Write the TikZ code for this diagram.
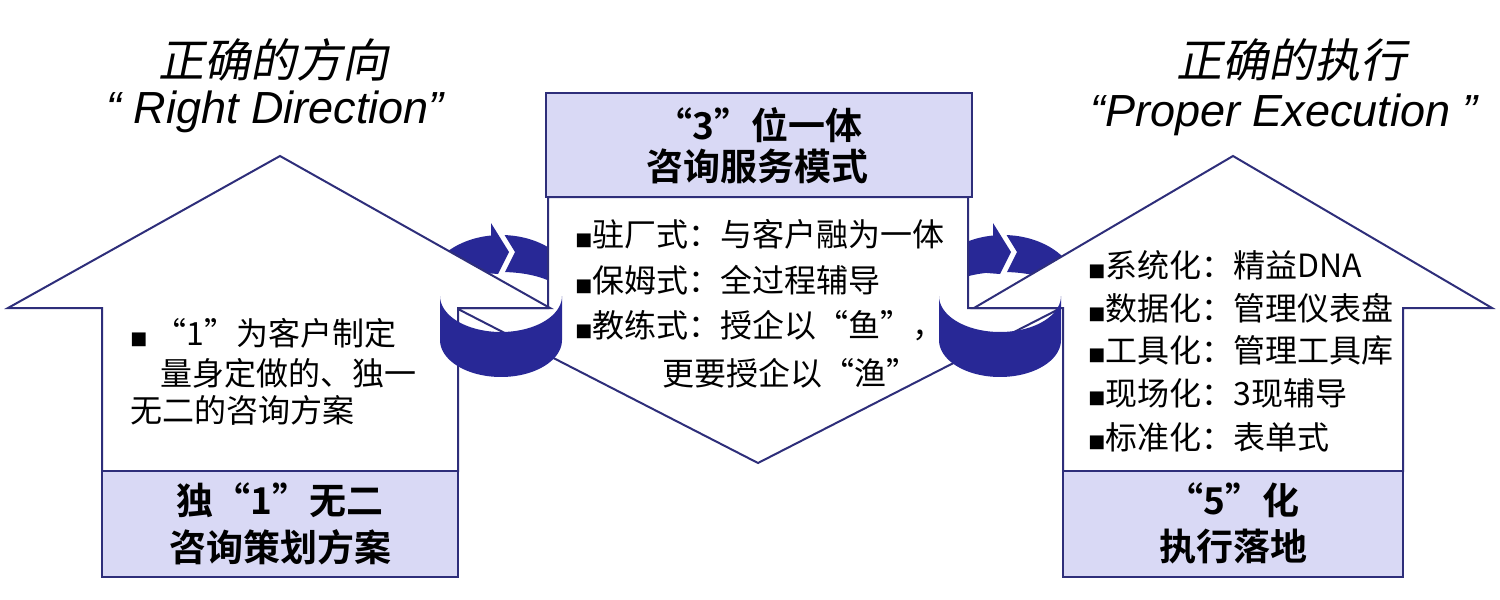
\documentclass[tikz,border=0pt]{standalone}
\usepackage{fontspec}
\setmainfont{Noto Sans CJK SC}[BoldFont={Noto Sans CJK SC Bold}]
\newfontfamily\cjkit{Noto Sans CJK SC}[FakeSlant=0.2]
\newfontfamily\latinf{Liberation Sans}
\newfontfamily\symf{DejaVu Sans}
\definecolor{lnavy}{RGB}{46,46,122}
\definecolor{boxfill}{RGB}{217,217,245}
\definecolor{ringblue}{RGB}{40,40,150}
\newcommand\blt{{\symf\fontsize{9}{9}\selectfont\raisebox{0.6pt}{■}}}
\newcommand\bandpath[1]{plot[domain=180:0,variable=\t,samples=50] ({#1+75*cos(\t)},{290-55*sin(\t)}) -- plot[domain=0:180,variable=\t,samples=50] ({#1+63*cos(\t)},{297-25*sin(\t)}) -- cycle}
\newcommand\ringback[1]{%
  \begin{scope}
    \clip (#1-10,180) rectangle (#1-120,320);
    \fill[ringblue] \bandpath{#1};
  \end{scope}
  \fill[ringblue] (#1-10,223) -- (#1+8,252) -- (#1-3,274) -- (#1-16,273) -- (#1-16,240) -- (#1-10,240) -- cycle;
  \begin{scope}
    \clip (#1-10,180) -- (#1-10,213) -- (#1+14,252) -- (#1+3,274) -- (#1-2,284) -- (#1+120,284) -- (#1+120,180) -- cycle;
    \fill[ringblue] \bandpath{#1};
  \end{scope}}
\newcommand\ringfront[1]{%
  \fill[ringblue] plot[domain=180:0,variable=\t,samples=60] ({#1+61*cos(\t)},{296+36*sin(\t)}) -- (#1+61,340) -- plot[domain=0:180,variable=\t,samples=60] ({#1+61*cos(\t)},{340+37*sin(\t)}) -- cycle;}
\tikzset{
  shapeline/.style={draw=lnavy, line width=1pt, fill=white, line join=miter},
  lavbox/.style={draw=lnavy, line width=1pt, fill=boxfill},
  body/.style={font=\fontsize{16}{16}\selectfont, inner sep=0pt, anchor=west},
  ttl/.style={font=\bfseries\fontsize{18.5}{19}\selectfont, inner sep=0pt},
  cjkhead/.style={font=\cjkit\fontsize{23}{24}\selectfont, inner sep=0pt},
  lathead/.style={font=\latinf\itshape\fontsize{22.5}{23}\selectfont, inner sep=0pt}
}
\begin{document}
\begin{tikzpicture}[x=0.5pt,y=-0.5pt]
\useasboundingbox (0,0) rectangle (1500,600);
% back parts of rotating rings
\ringback{501}
\ringback{1003}
% middle down arrow
\path[shapeline] (548,197) -- (548,308) -- (456,308) -- (758,463) -- (1061,308) -- (968,308) -- (968,197) -- cycle;
\path[lavbox] (546,93) rectangle (972,197);
% left up arrow
\path[shapeline] (102,471) -- (102,308) -- (8,308) -- (280,156) -- (550,308) -- (458,308) -- (458,471) -- cycle;
\path[lavbox] (102,471) rectangle (458,577);
% right up arrow
\path[shapeline] (1063,471) -- (1063,308) -- (974,308) -- (1233,156) -- (1492,308) -- (1403,308) -- (1403,471) -- cycle;
\path[lavbox] (1063,471) rectangle (1403,577);
% front parts of rings
\ringfront{501}
\ringfront{1000}
% headings
\node[cjkhead] (hl1) at (273,60) {正确的方向};
\node[lathead] (hl2) at (275,112) {“ Right Direction”};
\node[cjkhead] (hr1) at (1291,60) {正确的执行};
\node[lathead] (hr2) at (1284,115) {“Proper Execution ”};
% middle
\node[ttl] (m1) at (759,125) {“3”位一体};
\node[ttl] (m2) at (757,166) {咨询服务模式};
\node[body] (mb1) at (575,234) {\blt 驻厂式：与客户融为一体};
\node[body] (mb2) at (575,280) {\blt 保姆式：全过程辅导};
\node[body] (mb3) at (575,326) {\blt 教练式：授企以“鱼”，};
\node[body] (mb4) at (662,373) {更要授企以“渔”};
% left
\node[body] (lb1) at (130,333) {\blt\ “1”为客户制定};
\node[body] (lb2) at (160,373) {量身定做的、独一};
\node[body] (lb3) at (130,410) {无二的咨询方案};
\node[ttl] (l1) at (280,500) {独“1”无二};
\node[ttl] (l2) at (280,547) {咨询策划方案};
% right
\node[body] (rb1) at (1088,265) {\blt 系统化：精益DNA};
\node[body] (rb2) at (1088,308) {\blt 数据化：管理仪表盘};
\node[body] (rb3) at (1088,350) {\blt 工具化：管理工具库};
\node[body] (rb4) at (1088,393) {\blt 现场化：3现辅导};
\node[body] (rb5) at (1088,437) {\blt 标准化：表单式};
\node[ttl] (r1) at (1233,500) {“5”化};
\node[ttl] (r2) at (1233,547) {执行落地};
\end{tikzpicture}
\end{document}
